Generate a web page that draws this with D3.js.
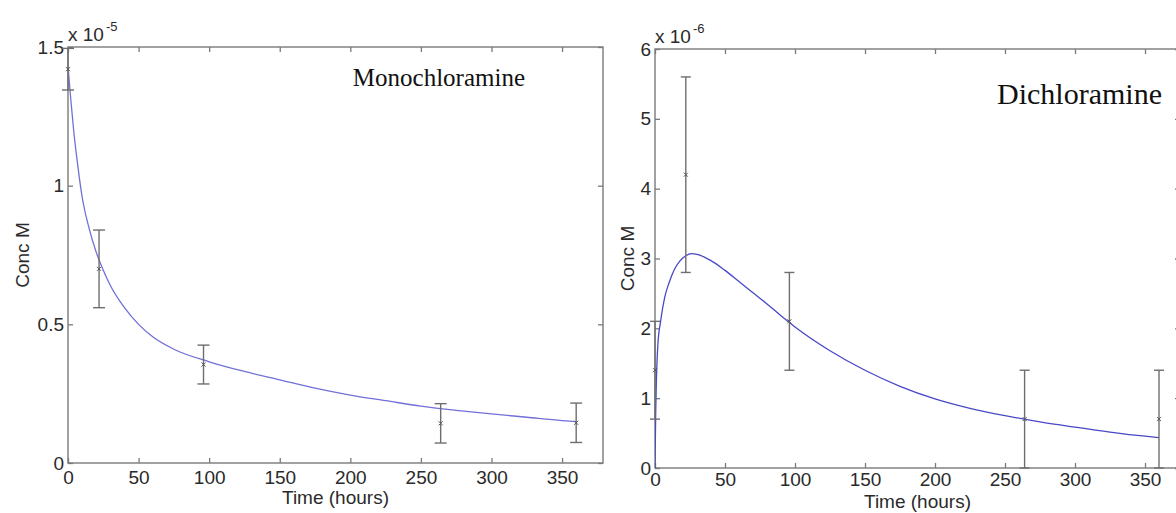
<!DOCTYPE html>
<html>
<head>
<meta charset="utf-8">
<script src="https://cdn.jsdelivr.net/npm/d3@7"></script>
<style>
    body { margin: 0; background: #fff; }
    svg { display: block; }
</style>
</head>
<body>
<svg id="chart"></svg>
<script>
// time ticks shared by both panels (hours)
const timeTicks = [0, 50, 100, 150, 200, 250, 300, 350];

// monochloramine, concentrations in units of 1e-5 M
const monoTimes = [0, 22, 96, 264, 360];
const monoMeans = [1.42, 0.70, 0.355, 0.143, 0.145];
const monoErrors = [0.075, 0.14, 0.07, 0.071, 0.071];
const monoFitTimes = [0, 2, 4, 6, 8, 10, 15, 20, 25, 30, 40, 50, 60, 75, 100, 125, 150, 175, 200, 225, 250, 275, 300, 325, 350, 360];
const monoFitConc = [1.43, 1.31, 1.20, 1.11, 1.03, 0.96, 0.845, 0.76, 0.695, 0.64, 0.56, 0.50, 0.455, 0.41, 0.365, 0.33, 0.30, 0.27, 0.245, 0.225, 0.205, 0.19, 0.177, 0.165, 0.153, 0.149];
const monoYTicks = [0, 0.5, 1, 1.5];

// dichloramine, concentrations in units of 1e-6 M
const diTimes = [0, 22, 96, 264, 360];
const diMeans = [1.4, 4.2, 2.1, 0.7, 0.7];
const diErrors = [0.7, 1.4, 0.7, 0.7, 0.7];
const diFitTimes = [0, 0.5, 1, 2, 4, 7, 10, 14, 18, 22, 26, 30, 40, 50, 60, 70, 80, 90, 100, 125, 150, 175, 200, 225, 250, 275, 300, 325, 350, 360];
const diFitConc = [0, 0.8, 1.25, 1.75, 2.1, 2.45, 2.65, 2.85, 2.97, 3.04, 3.07, 3.06, 2.97, 2.83, 2.67, 2.51, 2.35, 2.18, 2.02, 1.68, 1.40, 1.17, 0.99, 0.855, 0.75, 0.66, 0.585, 0.515, 0.455, 0.435];
const diYTicks = [0, 1, 2, 3, 4, 5, 6];

class ConcPanel {
    constructor(_config, _points, _fit) {
        this.points = _points;
        this.fit = _fit;

        // config object with defaults
        this.config = {
            parent: _config.parent,
            left: _config.left,
            right: _config.right,
            top: _config.top,
            bottom: _config.bottom,
            xMax: _config.xMax,
            yMax: _config.yMax,
            yTicks: _config.yTicks,
            exponent: _config.exponent,
            title: _config.title,
            titleX: _config.titleX,
            titleY: _config.titleY,
            titleSize: _config.titleSize || 26,
            xLabelY: _config.xLabelY,
            yLabelX: _config.yLabelX,
            xTickPad: _config.xTickPad || 8,
            lineColor: _config.lineColor || '#6060d0',
            capHalf: _config.capHalf || 5
        };

        this.initVis();
        this.renderVis();
    }

    initVis() {
        const that = this;
        const c = that.config;

        that.xScale = d3.scaleLinear()
            .domain([0, c.xMax])
            .range([c.left, c.right]);

        that.yScale = d3.scaleLinear()
            .domain([0, c.yMax])
            .range([c.bottom, c.top]);

        that.g = c.parent.append('g');
    }

    renderVis() {
        const that = this;
        const c = that.config;
        const g = that.g;
        const font = 'Arial, "Liberation Sans", Helvetica, sans-serif';

        // axes, MATLAB style: ticks point inwards on every side
        const xBottom = d3.axisBottom(that.xScale).tickValues(timeTicks).tickSize(-5).tickPadding(c.xTickPad).tickSizeOuter(0);
        const xTop = d3.axisTop(that.xScale).tickValues(timeTicks).tickSize(-5).tickFormat('').tickSizeOuter(0);
        const yLeft = d3.axisLeft(that.yScale).tickValues(c.yTicks).tickSize(-5).tickPadding(4).tickFormat(d3.format('')).tickSizeOuter(0);
        const yRight = d3.axisRight(that.yScale).tickValues(c.yTicks).tickSize(-5).tickFormat('').tickSizeOuter(0);

        const axes = [
            [xBottom, `translate(0,${c.bottom})`],
            [xTop, `translate(0,${c.top})`],
            [yLeft, `translate(${c.left},0)`],
            [yRight, `translate(${c.right},0)`]
        ];
        axes.forEach(([ax, tr]) => {
            const a = g.append('g').attr('transform', tr).call(ax);
            a.select('.domain').remove();
            a.selectAll('line').attr('stroke', '#7a7a7a').attr('stroke-width', 1.3);
            a.selectAll('text')
                .attr('fill', '#2a2a2a')
                .style('font-family', font)
                .style('font-size', '19px');
        });

        // box
        g.append('rect')
            .attr('x', c.left)
            .attr('y', c.top)
            .attr('width', c.right - c.left)
            .attr('height', c.bottom - c.top)
            .attr('fill', 'none')
            .attr('stroke', '#7a7a7a')
            .attr('stroke-width', 1.4);

        // exponent label above the y axis
        const ex = g.append('text')
            .attr('x', c.left)
            .attr('y', c.top - 6)
            .attr('fill', '#2a2a2a')
            .style('font-family', font)
            .style('font-size', '19px')
            .text('x 10');
        ex.append('tspan')
            .attr('dx', 2)
            .attr('dy', -10)
            .style('font-size', '13px')
            .text(c.exponent);

        // fitted curve
        const clipId = 'clip' + Math.round(c.left);
        g.append('clipPath').attr('id', clipId)
            .append('rect')
            .attr('x', c.left).attr('y', c.top)
            .attr('width', c.right - c.left).attr('height', c.bottom - c.top);

        const line = d3.line()
            .x(d => that.xScale(d[0]))
            .y(d => that.yScale(d[1]))
            .curve(d3.curveMonotoneX);

        g.append('path')
            .datum(that.fit)
            .attr('clip-path', `url(#${clipId})`)
            .attr('d', line)
            .attr('fill', 'none')
            .attr('stroke', c.lineColor)
            .attr('stroke-width', 1.3);

        // error bars
        const bars = g.selectAll('.ebar')
            .data(that.points)
            .join('g')
            .attr('class', 'ebar')
            .attr('stroke', '#6e6e6e')
            .attr('stroke-width', 1.4);

        bars.append('line')
            .attr('x1', d => that.xScale(d.t)).attr('x2', d => that.xScale(d.t))
            .attr('y1', d => that.yScale(d.m - d.e)).attr('y2', d => that.yScale(d.m + d.e));
        bars.append('line')
            .attr('x1', d => that.xScale(d.t) - c.capHalf).attr('x2', d => that.xScale(d.t) + c.capHalf)
            .attr('y1', d => that.yScale(d.m - d.e)).attr('y2', d => that.yScale(d.m - d.e));
        bars.append('line')
            .attr('x1', d => that.xScale(d.t) - c.capHalf).attr('x2', d => that.xScale(d.t) + c.capHalf)
            .attr('y1', d => that.yScale(d.m + d.e)).attr('y2', d => that.yScale(d.m + d.e));

        // small x markers on the means
        bars.append('path')
            .attr('d', d => {
                const x = that.xScale(d.t), y = that.yScale(d.m);
                return `M${x - 2},${y - 2}L${x + 2},${y + 2}M${x - 2},${y + 2}L${x + 2},${y - 2}`;
            })
            .attr('stroke', '#555')
            .attr('stroke-width', 1);

        // axis labels
        g.append('text')
            .attr('x', (c.left + c.right) / 2)
            .attr('y', c.xLabelY)
            .attr('text-anchor', 'middle')
            .attr('fill', '#2a2a2a')
            .style('font-family', font)
            .style('font-size', '19px')
            .text('Time (hours)');

        g.append('text')
            .attr('transform', `translate(${c.yLabelX},${(c.top + c.bottom) / 2}) rotate(-90)`)
            .attr('text-anchor', 'middle')
            .attr('fill', '#2a2a2a')
            .style('font-family', font)
            .style('font-size', '19px')
            .text('Conc M');

        // panel title
        g.append('text')
            .attr('x', c.titleX)
            .attr('y', c.titleY)
            .attr('text-anchor', 'end')
            .attr('fill', '#111')
            .style('font-family', '"Liberation Serif", "Times New Roman", serif')
            .style('font-size', c.titleSize + 'px')
            .text(c.title);
    }
}

const svg = d3.select('#chart')
    .attr('width', 1176)
    .attr('height', 513);

const zipPoints = (ts, ms, es) => ts.map((t, i) => ({ t: t, m: ms[i], e: es[i] }));
const zipFit = (ts, cs) => ts.map((t, i) => [t, cs[i]]);

new ConcPanel({
    parent: svg,
    left: 68, right: 603, top: 47, bottom: 463,
    xMax: 379, yMax: 1.5,
    yTicks: monoYTicks,
    exponent: '-5',
    title: 'Monochloramine',
    titleX: 525, titleY: 86, titleSize: 25,
    xLabelY: 504, yLabelX: 29,
    lineColor: '#7070d8',
    capHalf: 6
}, zipPoints(monoTimes, monoMeans, monoErrors), zipFit(monoFitTimes, monoFitConc));

new ConcPanel({
    parent: svg,
    left: 655, right: 1180, top: 49, bottom: 468,
    xMax: 375, yMax: 6,
    yTicks: diYTicks,
    exponent: '-6',
    title: 'Dichloramine',
    titleX: 1162, titleY: 104, titleSize: 30,
    xLabelY: 508, yLabelX: 634,
    xTickPad: 5,
    lineColor: '#4848c8',
    capHalf: 5
}, zipPoints(diTimes, diMeans, diErrors), zipFit(diFitTimes, diFitConc));
</script>
</body>
</html>
